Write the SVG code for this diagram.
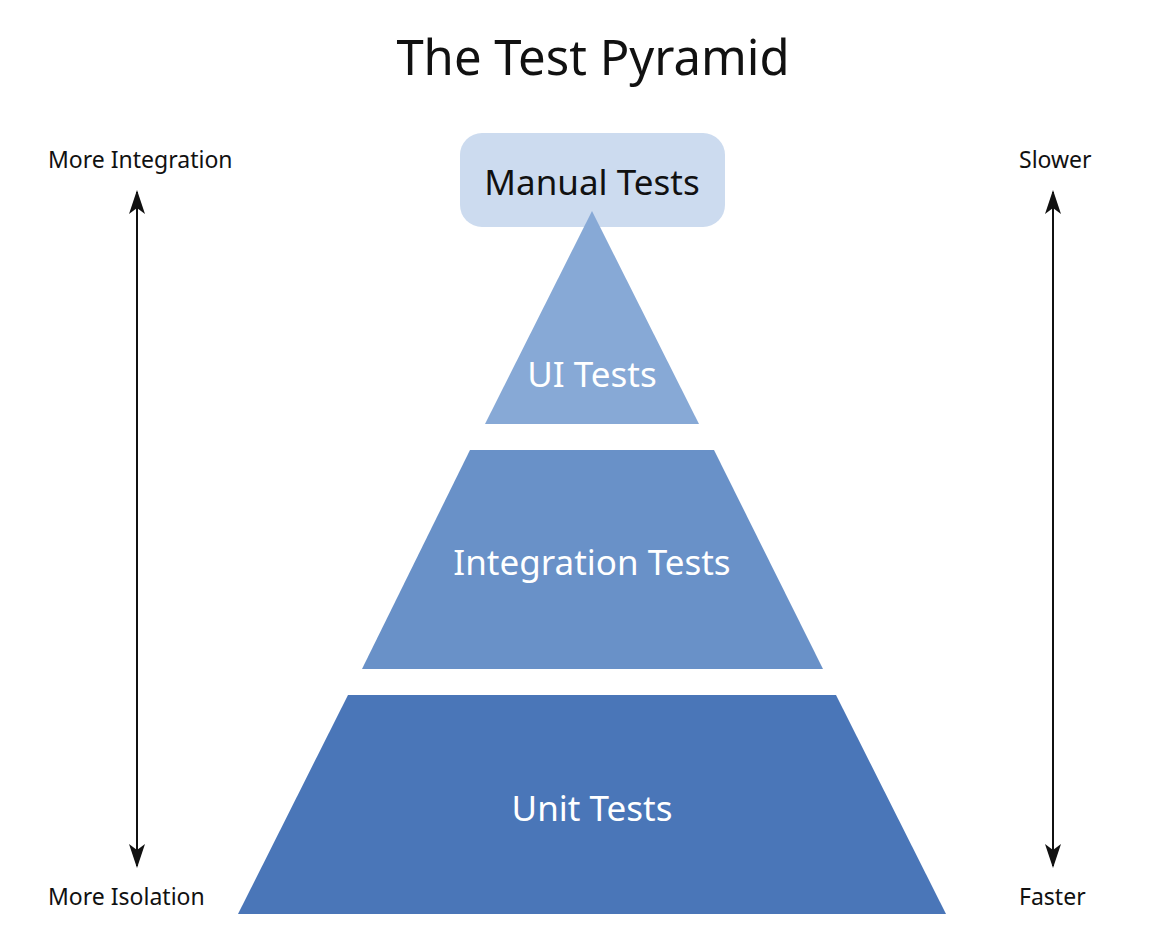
<svg xmlns="http://www.w3.org/2000/svg" width="1160" height="940" viewBox="0 0 1160 940">
<defs>
<style>
.t{font-family:"Noto Sans","Open Sans","Liberation Sans",sans-serif}
.side{font-size:23px;fill:#111}
.lbl{font-size:35px;fill:#fff;text-anchor:middle}
.ax{stroke:#111;stroke-width:2;fill:none}
</style>
<marker id="ah" markerUnits="userSpaceOnUse" markerWidth="24" markerHeight="18" viewBox="0 0 24 18" refX="22" refY="9" orient="auto-start-reverse">
<path d="M0,1 L24,9 L0,17 L6,9 Z" fill="#111"/>
</marker>
</defs>
<rect width="1160" height="940" fill="#fff"/>
<text class="t" x="593" y="75" font-size="49" text-anchor="middle" fill="#111">The Test Pyramid</text>
<g id="connectors">
<line class="ax" x1="137" y1="192" x2="137" y2="866" marker-start="url(#ah)" marker-end="url(#ah)"/>
<line class="ax" x1="1053" y1="192" x2="1053" y2="866" marker-start="url(#ah)" marker-end="url(#ah)"/>
</g>
<g id="side-labels">
<text class="t side" x="48" y="168">More Integration</text>
<text class="t side" x="48" y="905">More Isolation</text>
<text class="t side" x="1019" y="168">Slower</text>
<text class="t side" x="1019" y="905">Faster</text>
</g>
<g id="manual">
<rect x="460" y="133" width="265" height="94" rx="22" fill="#ccdbef"/>
<text class="t" x="592" y="195" font-size="35" text-anchor="middle" fill="#111">Manual Tests</text>
</g>
<g id="ui">
<polygon points="592,211 699,424 485,424" fill="#87a9d6"/>
<text class="t lbl" x="592" y="387">UI Tests</text>
</g>
<g id="integration">
<polygon points="470,450 714,450 823,669 362,669" fill="#6991c8"/>
<text class="t lbl" x="592" y="575">Integration Tests</text>
</g>
<g id="unit">
<polygon points="348,695 836,695 946,914 238,914" fill="#4a76b8"/>
<text class="t lbl" x="592" y="821">Unit Tests</text>
</g>
</svg>
